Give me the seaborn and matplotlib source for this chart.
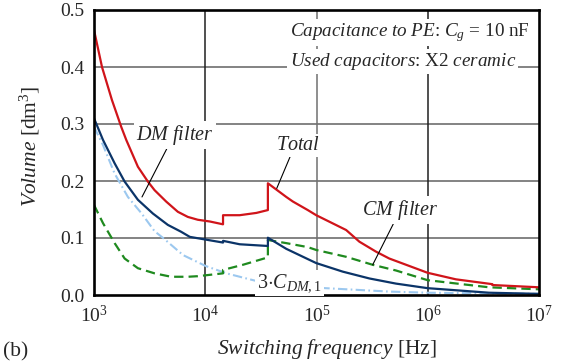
import numpy as np
import pandas as pd
import matplotlib
matplotlib.use("Agg")
import matplotlib.pyplot as plt
import seaborn as sns

# ---- data ----
total_f = [1000, 1180, 1450, 1757, 1950, 2481, 3050, 3500, 4450, 5670, 6970, 8570, 10970, 14450, 14450,
           20400, 28800, 36560, 36560, 53500, 61300, 83500, 99400, 184700, 243000, 343000, 451000,
           996000, 1790000, 3810000, 3810000, 10000000]
total_v = [0.465, 0.40, 0.342, 0.295, 0.272, 0.225, 0.199, 0.184, 0.164, 0.146, 0.137, 0.132, 0.129, 0.124, 0.140,
           0.140, 0.144, 0.149, 0.196, 0.172, 0.164, 0.149, 0.140, 0.114, 0.0935, 0.076, 0.064,
           0.039, 0.0275, 0.019, 0.0175, 0.0135]

dm_f = [1000, 1205, 1533, 1885, 2481, 3380, 4610, 6060, 7260, 8930, 10970, 14450, 14450, 20400, 36560, 36560,
        53500, 83500, 99400, 172000, 299000, 518000, 996000, 3560000, 10000000]
dm_v = [0.31, 0.272, 0.231, 0.199, 0.167, 0.143, 0.123, 0.111, 0.102, 0.099, 0.096, 0.092, 0.095, 0.089, 0.086, 0.1005,
        0.081, 0.063, 0.056, 0.041, 0.029, 0.020, 0.012, 0.004, 0.002]

cm_f = [1000, 1205, 1533, 1885, 2481, 3500, 4935, 6970, 8570, 14450, 14450, 21800, 36560, 36560, 53500,
        83500, 99400, 184700, 320000, 518000, 996000, 3560000, 10000000]
cm_v = [0.158, 0.126, 0.091, 0.064, 0.047, 0.038, 0.032, 0.032, 0.033, 0.038, 0.044, 0.053, 0.066, 0.0965, 0.091,
        0.084, 0.079, 0.067, 0.053, 0.043, 0.026, 0.0135, 0.010]

c3_f = [1000, 1205, 1533, 2017, 2680, 3500, 4180, 6320, 10050, 15500, 25100, 36000, 120000, 451000,
        1000000, 10000000]
c3_v = [0.295, 0.263, 0.213, 0.172, 0.143, 0.112, 0.100, 0.070, 0.051, 0.038, 0.0275, 0.020, 0.012, 0.006,
        0.004, 0.002]

x_ticks = [1e3, 1e4, 1e5, 1e6, 1e7]
x_tick_labels = [r"$10^3$", r"$10^4$", r"$10^5$", r"$10^6$", r"$10^7$"]
y_ticks = [0.0, 0.1, 0.2, 0.3, 0.4, 0.5]
y_tick_labels = ["0.0", "0.1", "0.2", "0.3", "0.4", "0.5"]

# ---- style ----
sns.set_style("white")
plt.rcParams["font.family"] = ["Liberation Serif", "DejaVu Serif"]
plt.rcParams["mathtext.fontset"] = "custom"
plt.rcParams["mathtext.rm"] = "Liberation Serif"
plt.rcParams["mathtext.it"] = "Liberation Serif:italic"
plt.rcParams["mathtext.bf"] = "Liberation Serif:bold"

FS_TICK = 14
FS_LAB = 15.5
FS_ANN = 14.5
FS_TOP = 13.8

fig = plt.figure(figsize=(5.66, 3.63), dpi=100)
ax = fig.add_axes([94/566, 1-295/363, (539-94)/566, (295-10)/363])

# grid
for yv in y_ticks[1:-1]:
    ax.axhline(yv, color="#6e6e6e", lw=1.2, zorder=0)
for xv, c in zip(x_ticks[1:-1], ["#202020", "#707070", "#202020"]):
    ax.axvline(xv, color=c, lw=1.1, zorder=0)

kw = dict(estimator=None, sort=False, ax=ax, legend=False)
sns.lineplot(x=c3_f, y=c3_v, color="#9cc8ef", lw=1.5, **kw)
ax.lines[-1].set_dashes([4.5, 1.6, 0.8, 1.6])
sns.lineplot(x=cm_f, y=cm_v, color="#1f8a1f", lw=1.6, **kw)
ax.lines[-1].set_dashes([4.2, 2.3])
sns.lineplot(x=dm_f, y=dm_v, color="#0b3468", lw=1.6, **kw)
sns.lineplot(x=total_f, y=total_v, color="#d0141a", lw=1.6, **kw)

ax.set_xscale("log")
ax.set_xlim(1e3, 1e7)
ax.set_ylim(0, 0.5)
ax.set_xticks(x_ticks)
ax.set_xticklabels(x_tick_labels, fontsize=FS_TICK)
ax.minorticks_off()
ax.set_yticks(y_ticks)
ax.set_yticklabels(y_tick_labels, fontsize=FS_TICK)
ax.tick_params(axis="y", length=0, pad=7)
ax.tick_params(axis="x", length=0, pad=7)
for s in ax.spines.values():
    s.set_linewidth(1.9)
    s.set_color("black")

ax.set_xlabel(r"$\mathit{Switching\ frequency}$ [Hz]", fontsize=FS_LAB)
ax.xaxis.set_label_coords(0.524, -0.148)
ax.set_ylabel(r"$\mathit{Volume}$ [dm$^3$]", fontsize=FS_LAB)
ax.yaxis.set_label_coords(-0.117, 0.52)

box = dict(facecolor="white", edgecolor="none", pad=1.5)
ax.text(57200, 0.460, r"$\mathit{Capacitance\ to\ PE}$: $C_g$ = 10 nF", fontsize=FS_TOP,
        ha="left", va="center", bbox=box, zorder=5)
ax.text(57200, 0.409, r"$\mathit{Used\ capacitors}$: X2 $\mathit{ceramic}$", fontsize=FS_TOP,
        ha="left", va="center", bbox=box, zorder=5)

def pointer(rx):
    return dict(arrowstyle="-", color="black", lw=0.8, shrinkA=0, shrinkB=0, relpos=(rx, 0.0))

ax.annotate(r"$\mathit{DM\ filter}$", xy=(2700, 0.172), xytext=(5320, 0.281),
            fontsize=FS_ANN, ha="center", va="center", bbox=box, zorder=5,
            arrowprops=pointer(0.41))
ax.annotate(r"$\mathit{Total}$", xy=(43900, 0.187), xytext=(68900, 0.263),
            fontsize=FS_ANN, ha="center", va="center", bbox=box, zorder=5,
            arrowprops=pointer(0.33))
ax.annotate(r"$\mathit{CM\ filter}$", xy=(320000, 0.053), xytext=(567000, 0.149),
            fontsize=FS_ANN, ha="center", va="center", bbox=box, zorder=5,
            arrowprops=pointer(0.42))
ax.text(57200, 0.021, r"3$\cdot C_{DM,\mathrm{1}}$", fontsize=FS_ANN, ha="center", va="center",
        bbox=box, zorder=5)

fig.text(0.005, 0.03, "(b)", fontsize=FS_LAB, ha="left", va="center")

fig.savefig("out.png", dpi=100)
